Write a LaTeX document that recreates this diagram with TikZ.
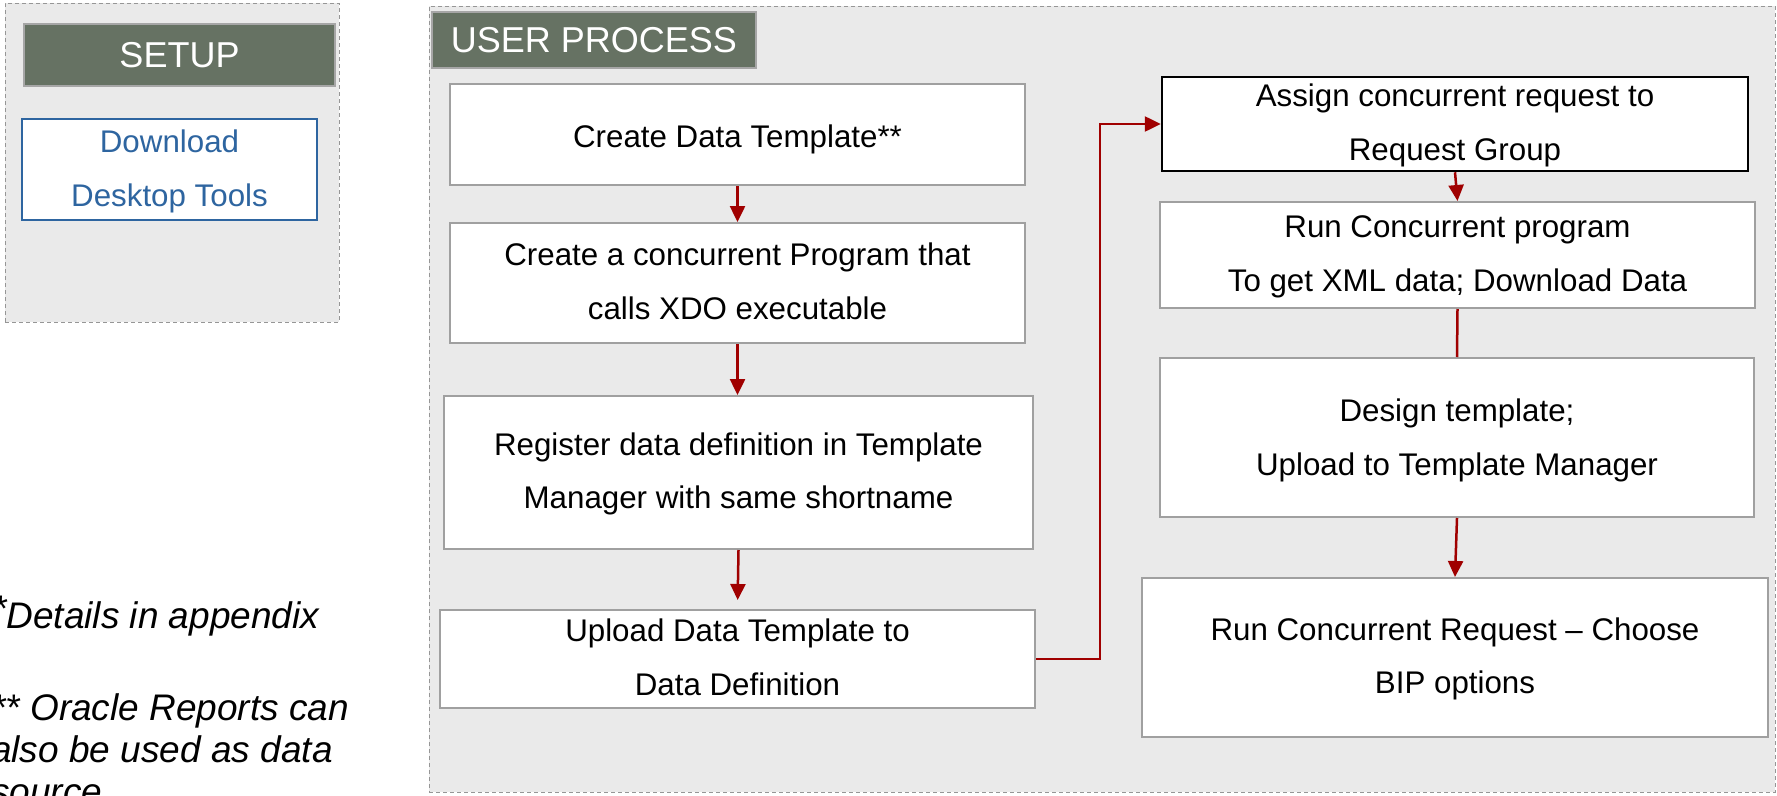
\documentclass[tikz,border=0pt]{standalone}
\usepackage{fontspec}
\setmainfont{Liberation Sans}
\usetikzlibrary{arrows.meta,calc}
\definecolor{hdr}{RGB}{102,114,99}
\definecolor{hdrline}{RGB}{166,166,166}
\definecolor{panel}{RGB}{234,234,234}
\definecolor{panelline}{RGB}{150,150,150}
\definecolor{boxline}{RGB}{160,160,160}
\definecolor{arr}{RGB}{160,0,0}
\definecolor{dlblue}{RGB}{46,101,160}
\begin{document}
\begin{tikzpicture}[x=1pt,y=-1pt,
  panelbox/.style={draw=panelline, fill=panel, dash pattern=on 4pt off 3pt, line width=1pt, inner sep=0pt},
  hdrbox/.style={draw=hdrline, fill=hdr, line width=2pt, text=white, inner sep=0pt,
     font=\fontsize{36}{36}\selectfont, text height=25pt, text depth=0pt},
  stepbox/.style={draw=boxline, fill=white, line width=2pt, align=center, inner sep=0pt,
     font=\fontsize{31.3}{53.5}\selectfont, text height=75pt, text depth=3pt},
  foot/.style={inner sep=0pt, anchor=base west, font=\fontsize{37}{42}\selectfont\itshape},
  flow/.style={draw=arr, line width=2.5pt, -{Triangle[width=15pt,length=16pt]}},
  plainflow/.style={draw=arr, line width=2.5pt}
]
\useasboundingbox (0,0) rectangle (1777,795);

% panels
\node[panelbox, minimum width=334pt, minimum height=319pt] (setuppanel) at (172,162.5) {};
\node[panelbox, minimum width=1346pt, minimum height=786pt] (userpanel) at (1102,399) {};

% headers
\node[hdrbox, minimum width=311pt, minimum height=62pt] (setuphdr) at (179.5,55) {SETUP};
\node[hdrbox, minimum width=324pt, minimum height=56pt] (userhdr) at (594,40) {USER PROCESS};

% setup box
\node[stepbox, draw=dlblue, line width=1.5pt, text=dlblue, text height=76pt, text depth=3pt, minimum width=295pt, minimum height=101pt] (dl) at (169.5,169.5) {Download\\Desktop Tools};

% left column
\node[stepbox, text height=25pt, text depth=0pt, minimum width=575pt, minimum height=101pt] (b1) at (737.5,134.5) {Create Data Template**};
\node[stepbox, minimum width=575pt, minimum height=120pt] (b2) at (737.5,283) {Create a concurrent Program that\\calls XDO executable};
\node[stepbox, minimum width=589pt, minimum height=153pt] (b3) at (738.5,472.5) {Register data definition in Template\\Manager with same shortname};
\node[stepbox, minimum width=595pt, minimum height=98pt] (b4) at (737.5,659) {Upload Data Template to\\Data Definition};

% right column
\node[stepbox, draw=black, line width=2.5pt, minimum width=586pt, minimum height=94pt] (b5) at (1455,124) {Assign concurrent request to\\Request Group};
\node[stepbox, minimum width=595pt, minimum height=106pt] (b6) at (1457.5,255) {Run Concurrent program\\To get XML data; Download Data};
\node[stepbox, text depth=0pt, minimum width=594pt, minimum height=159pt] (b7) at (1457,437.5) {Design template;\\Upload to Template Manager};
\node[stepbox, minimum width=626pt, minimum height=159pt] (b8) at (1455,657.5) {Run Concurrent Request -- Choose\\BIP options};

% footnotes
\node[foot] (fn1) at (-8,628) {\raisebox{7pt}{*}Details in appendix};
\node[foot] (fn2) at (-9,720) {** Oracle Reports can};
\node[foot] (fn3) at (-9,762) {also be used as data};
\node[foot] (fn4) at (-9,804) {source};

% connectors
\draw[flow] (b1.south) -- (b2.north);
\draw[flow] (b2.south) -- (b2.south |- b3.north);
\draw[flow, shorten >=9pt] (b3.south) -- (b4.north);
\draw[flow] (b4.east) -- ++(64,0) |- (b5.west);
\draw[flow] (b5.south) -- (b6.north);
\draw[plainflow] (b6.south) -- (b7.north);
\draw[flow] (b7.south) -- (b8.north);
\end{tikzpicture}
\end{document}
